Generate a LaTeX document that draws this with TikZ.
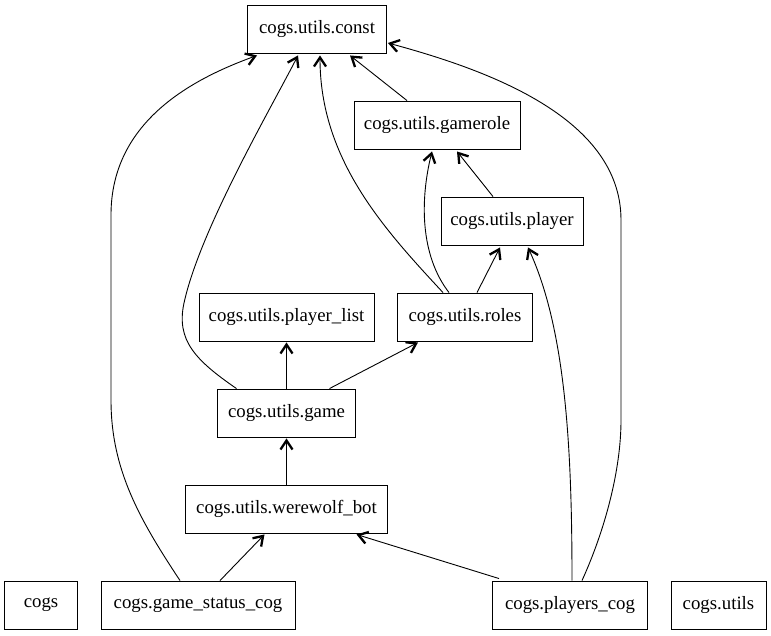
\documentclass[tikz,border=0pt]{standalone}
\usepackage{fontspec}
\setmainfont{Liberation Serif}
\usetikzlibrary{arrows.meta,calc}
\begin{document}
\begin{tikzpicture}[x=1pt,y=-1pt,
  box/.style={draw,line width=0.9pt,minimum height=48pt,inner sep=0pt,font=\fontsize{18.8}{22}\selectfont},
  dep/.style={line width=0.9pt,-{Straight Barb[length=9pt,width=12pt,line width=1.4pt 1]}}]
\useasboundingbox (0,0) rectangle (771,635);
\node[box,minimum width=139pt] (const) at (317,29) {cogs.utils.const};
\node[box,minimum width=166pt] (gamerole) at (437,125) {cogs.utils.gamerole};
\node[box,minimum width=142pt] (player) at (512,221) {cogs.utils.player};
\node[box,minimum width=175pt] (plist) at (286.5,317) {cogs.utils.player\_list};
\node[box,minimum width=135pt] (roles) at (465,317) {cogs.utils.roles};
\node[box,minimum width=138pt] (game) at (286.5,413) {cogs.utils.game};
\node[box,minimum width=202pt] (wbot) at (286.5,509) {cogs.utils.werewolf\_bot};
\node[box,minimum width=73pt] (cogs) at (41,605) {cogs};
\node[box,minimum width=194pt] (gsc) at (198,605) {cogs.game\_status\_cog};
\node[box,minimum width=155pt] (pcog) at (570,605) {cogs.players\_cog};
\node[box,minimum width=95pt] (utils) at (718.5,605) {cogs.utils};
% game_status_cog -> const
\draw[dep] ($(gsc.north)+(-18,0)$) .. controls (140,520) and (111,470) .. (111,400) -- (111,215) .. controls (111,120) and (195,78) .. ($(const.south west)+(10,2)$);
% game -> const
\draw[dep] ($(game.north)+(-50,0)$) .. controls (195,360) and (176,340) .. (184,303) .. controls (200,230) and (270,110) .. ($(const.south)+(-19,2)$);
% roles -> const
\draw[dep] ($(roles.north)+(-22,0)$) .. controls (385,230) and (320,160) .. ($(const.south)+(3,2)$);
% gamerole -> const
\draw[dep] ($(gamerole.north)+(-30,0)$) -- ($(const.south)+(33,2)$);
% players_cog -> const
\draw[dep] ($(pcog.north)+(12,0)$) .. controls (605,530) and (621,470) .. (621,420) -- (621,220) .. controls (621,115) and (480,68) .. ($(const.east)+(1,14)$);
% roles -> gamerole
\draw[dep] ($(roles.north)+(-16,0)$) .. controls (420,255) and (420,200) .. ($(gamerole.south)+(-5,2)$);
% player -> gamerole
\draw[dep] ($(player.north)+(-19,0)$) -- ($(gamerole.south)+(20,2)$);
% roles -> player
\draw[dep] ($(roles.north)+(12,0)$) -- ($(player.south)+(-12,2)$);
% players_cog -> player
\draw[dep] ($(pcog.north)+(2,0)$) .. controls (572,450) and (566,330) .. ($(player.south)+(16,2)$);
% game -> player_list
\draw[dep] (game.north) -- ($(plist.south)+(0,1)$);
% game -> roles
\draw[dep] ($(game.north)+(43,0)$) -- ($(roles.south)+(-47,1)$);
% werewolf_bot -> game
\draw[dep] (wbot.north) -- ($(game.south)+(0,1)$);
% game_status_cog -> werewolf_bot
\draw[dep] ($(gsc.north)+(22,0)$) -- ($(wbot.south)+(-22,1)$);
% players_cog -> werewolf_bot
\draw[dep] ($(pcog.north west)+(7,-2)$) -- ($(wbot.south)+(70,1)$);
\end{tikzpicture}
\end{document}
